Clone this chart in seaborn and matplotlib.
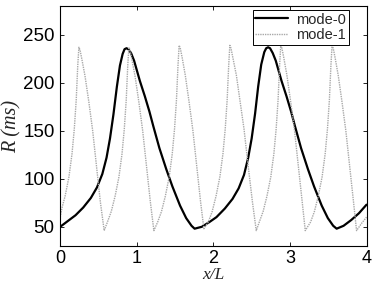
import numpy as np
import pandas as pd
import matplotlib
matplotlib.use("Agg")
import matplotlib.pyplot as plt
import seaborn as sns

# mode-0 (solid black)
MODE0_X = [0.0, 0.1, 0.2, 0.3, 0.4, 0.48, 0.55, 0.605, 0.65, 0.695, 0.74, 0.78, 0.815, 0.84, 0.865,
           0.89, 0.925, 0.965, 1.04, 1.105, 1.165, 1.215, 1.295, 1.385, 1.465, 1.565, 1.645, 1.715, 1.755,
           1.85, 1.95, 2.04, 2.15, 2.25, 2.33, 2.40, 2.455, 2.50, 2.545, 2.585, 2.625, 2.665, 2.69, 2.715,
           2.74, 2.775, 2.815, 2.89, 2.955, 3.015, 3.065, 3.145, 3.235, 3.315, 3.415, 3.495, 3.565, 3.61,
           3.70, 3.80, 3.90, 4.0]
MODE0_R = [50, 56, 62, 70, 80, 91, 105, 122, 142, 167, 196, 218, 230, 235, 236,
           235, 231, 223, 202, 186, 170, 155, 132, 110, 92, 72, 59, 51, 48,
           50, 55, 60, 69, 79, 90, 104, 122, 142, 168, 196, 219, 232, 236, 237,
           236, 231, 223, 202, 186, 170, 155, 132, 110, 92, 72, 59, 51, 48,
           51, 57, 64, 73]

# mode-1 (dotted grey)
MODE1_X = [0.0, 0.024, 0.064, 0.114, 0.154, 0.184, 0.209, 0.229, 0.244,
           0.259, 0.284, 0.324, 0.374, 0.424, 0.474, 0.524, 0.574,
           0.617, 0.667, 0.717, 0.767, 0.807, 0.837, 0.862, 0.882, 0.897,
           0.912, 0.937, 0.977, 1.027, 1.077, 1.127, 1.177, 1.223,
           1.273, 1.323, 1.373, 1.423, 1.463, 1.493, 1.518, 1.538, 1.553,
           1.568, 1.593, 1.633, 1.683, 1.733, 1.783, 1.833, 1.876,
           1.935, 1.985, 2.035, 2.085, 2.125, 2.155, 2.18, 2.20, 2.215,
           2.23, 2.255, 2.30, 2.35, 2.40, 2.455, 2.51, 2.56,
           2.60, 2.65, 2.70, 2.75, 2.79, 2.82, 2.845, 2.865, 2.88,
           2.895, 2.92, 2.96, 3.01, 3.06, 3.11, 3.16, 3.20,
           3.27, 3.32, 3.37, 3.42, 3.46, 3.49, 3.515, 3.535, 3.55,
           3.565, 3.59, 3.63, 3.68, 3.73, 3.78, 3.83, 3.87,
           3.93, 4.0]
MODE1_R = [60, 70, 82, 102, 126, 152, 182, 218, 237,
           234, 224, 207, 180, 150, 113, 76, 46,
           55, 66, 82, 102, 126, 152, 182, 218, 237,
           234, 224, 207, 180, 150, 113, 76, 46,
           55, 66, 82, 102, 126, 152, 182, 218, 239,
           236, 226, 208, 180, 150, 113, 76, 48,
           55, 66, 82, 102, 126, 152, 182, 218, 239,
           236, 226, 208, 180, 152, 113, 76, 46,
           55, 66, 82, 102, 126, 152, 182, 218, 239,
           236, 226, 208, 180, 150, 113, 76, 46,
           55, 66, 82, 102, 126, 152, 182, 218, 239,
           236, 226, 208, 180, 150, 113, 76, 46,
           53, 60]

X_TICKS = [0, 1, 2, 3, 4]
Y_TICKS = [50, 100, 150, 200, 250]


def main():
    sns.set_theme(style="white")
    plt.rcParams.update({
        "font.family": ["Liberation Sans", "DejaVu Sans"],
        "axes.linewidth": 0.8,
        "axes.edgecolor": "black",
    })

    df0 = pd.DataFrame({"x": MODE0_X, "R": MODE0_R})
    df1 = pd.DataFrame({"x": MODE1_X, "R": MODE1_R})

    fig = plt.figure(figsize=(3.74, 2.86), dpi=100)
    ax = fig.add_axes([0.161, 0.14, 0.819, 0.839])

    sns.lineplot(data=df0, x="x", y="R", sort=False, estimator=None,
                 color="black", linewidth=1.6, label="mode-0", ax=ax)
    sns.lineplot(data=df1, x="x", y="R", sort=False, estimator=None,
                 color="#a8a8a8", linewidth=1.0, linestyle=(0, (1, 0.7)),
                 label="mode-1", ax=ax)

    ax.set_xlim(0, 4)
    ax.set_ylim(30, 280)
    ax.set_xticks(X_TICKS)
    ax.set_yticks(Y_TICKS)
    ax.tick_params(axis="both", which="both", direction="in", length=3, width=0.6,
                   top=True, right=True, bottom=True, left=True, labelsize=13.5,
                   colors="black")
    ax.tick_params(axis="x", pad=3, labelsize=13)
    ax.tick_params(axis="y", pad=4)

    ax.set_xlabel("x/L", fontsize=12.5, fontstyle="italic",
                  family=["Liberation Serif", "DejaVu Serif"], labelpad=0)
    ax.set_ylabel("R (ms)", fontsize=14.5, fontstyle="italic",
                  family=["Liberation Serif", "DejaVu Serif"], labelpad=1)

    leg = ax.legend(loc="upper right", bbox_to_anchor=(0.955, 1.0), fontsize=10.5,
                    frameon=True, fancybox=False, framealpha=1, edgecolor="black",
                    handlelength=2.2, borderpad=0.2, labelspacing=0.1,
                    handletextpad=0.6, borderaxespad=0.25)
    leg.get_frame().set_linewidth(0.7)

    for spine in ax.spines.values():
        spine.set_color("black")
        spine.set_linewidth(0.8)

    fig.savefig("out.png", dpi=100)
    plt.close(fig)


if __name__ == "__main__":
    main()
